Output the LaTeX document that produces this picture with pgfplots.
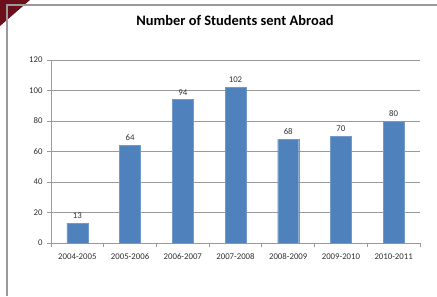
\documentclass[border=0pt]{standalone}
\usepackage{pgfplots}
\pgfplotsset{compat=1.18}
\usepackage{fontspec}
\setmainfont{Carlito}
\definecolor{barblue}{HTML}{4F81BD}
\definecolor{gridgray}{HTML}{9A9A9A}
\definecolor{darkred}{HTML}{6B0F1A}
\definecolor{txt}{HTML}{303030}
\begin{document}
\begin{tikzpicture}[x=1bp,y=1bp]
\path[use as bounding box] (0,0) rectangle (437,296);
\fill[darkred] (0,296) -- (30,296) -- (0,270) -- cycle;
\draw[gridgray, line width=1.2bp] (7,0) -- (7,291) -- (437,291);
\node[font=\fontsize{14.5}{16}\selectfont\bfseries, text=black] at (235,276) {Number of Students sent Abroad};
\begin{axis}[
  at={(51bp,53bp)}, anchor=south west,
  scale only axis, width=369bp, height=183bp,
  xmin=-0.5, xmax=6.5, ymin=0, ymax=120,
  ytick={0,20,...,120},
  xtick={0,...,6},
  xticklabels={2004-2005,2005-2006,2006-2007,2007-2008,2008-2009,2009-2010,2010-2011},
  minor xtick={-0.5,0.5,...,6.5},
  major x tick style={draw=none},
  tick align=outside,
  major tick length=4bp, minor tick length=4bp,
  tick style={gridgray, line width=0.8bp},
  ymajorgrids, grid style={gridgray, line width=0.8bp},
  axis x line*=bottom, axis y line*=left,
  axis line style={gridgray, line width=0.8bp, -},
  ticklabel style={font=\fontsize{8.8}{10}\selectfont, text=txt},
  /pgf/number format/assume math mode=true,
  yticklabel style={xshift=-1bp},
  xticklabel style={yshift=-3bp},
  ybar, bar width=21bp,
  nodes near coords,
  every node near coord/.append style={font=\fontsize{8.8}{10}\selectfont, text=txt, yshift=1bp},
]
\addplot[fill=barblue, draw=barblue!80!white] coordinates {(0,13) (1,64) (2,94) (3,102) (4,68) (5,70) (6,80)};
\end{axis}
\end{tikzpicture}
\end{document}
